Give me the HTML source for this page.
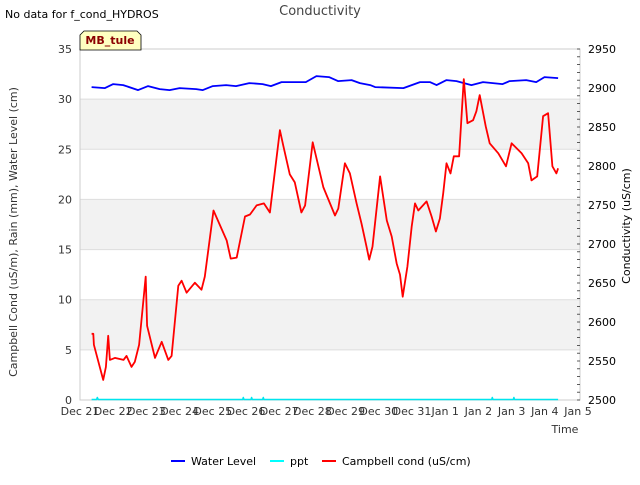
<!DOCTYPE html>
<html><head><meta charset="utf-8"><style>
body{margin:0;background:#fff;font-family:"Liberation Sans","DejaVu Sans",sans-serif}
svg text{font-family:"DejaVu Sans","Liberation Sans",sans-serif}
</style></head><body>
<svg id="chart" width="640" height="480" viewBox="0 0 640 480">
<text x="5" y="18" font-size="11" fill="#000">No data for f_cond_HYDROS</text>
<text x="320" y="15" font-size="13" text-anchor="middle" fill="#444">Conductivity</text>
<g id="bands"></g>
<g id="grid"></g>
<rect x="80" y="49" width="500" height="351" fill="none" stroke="#ccc"/>
<g id="axes"></g>
<g id="series"></g>
<g>
<path d="M84,31 L137,31 L141,35 L141,50 L80,50 L80,35 Z" fill="#ffffc0" stroke="#000" stroke-width="0.8"/>
<text x="110" y="44" font-size="11" font-weight="bold" text-anchor="middle" fill="#8b0000">MB_tule</text>
</g>
<text transform="translate(17,232) rotate(-90)" font-size="11" text-anchor="middle" fill="#333">Campbell Cond (uS/m), Rain (mm), Water Level (cm)</text>
<text transform="translate(630,226) rotate(-90)" font-size="11" text-anchor="middle" fill="#000">Conductivity (uS/cm)</text>
<text x="565" y="433" font-size="11" text-anchor="middle" fill="#333">Time</text>
<g>
<g><line x1="171" y1="461" x2="185" y2="461" stroke="#00f" stroke-width="2"/><text x="191" y="465" font-size="11">Water Level</text></g>
<g><line x1="270" y1="461" x2="284" y2="461" stroke="#0ff" stroke-width="2"/><text x="290" y="465" font-size="11">ppt</text></g>
<g><line x1="322" y1="461" x2="336" y2="461" stroke="#f00" stroke-width="2"/><text x="342" y="465" font-size="11">Campbell cond (uS/cm)</text></g>
</g>
</svg>
<script>
const xTickLabels=["Dec 21","Dec 22","Dec 23","Dec 24","Dec 25","Dec 26","Dec 27","Dec 28","Dec 29","Dec 30","Dec 31","Jan 1","Jan 2","Jan 3","Jan 4","Jan 5"];
const leftTicks=[0,5,10,15,20,25,30,35];
const rightTicks=[2500,2550,2600,2650,2700,2750,2800,2850,2900,2950];
const condDays=[0.35,0.40,0.42,0.70,0.78,0.85,0.90,1.05,1.31,1.40,1.55,1.65,1.78,1.98,2.02,2.26,2.46,2.66,2.76,2.96,3.06,3.21,3.46,3.66,3.76,4.02,4.42,4.54,4.72,4.97,5.12,5.32,5.54,5.72,6.02,6.12,6.32,6.47,6.67,6.78,7.01,7.33,7.68,7.78,7.98,8.13,8.33,8.48,8.63,8.71,8.81,9.04,9.24,9.39,9.54,9.64,9.72,9.86,9.99,10.09,10.19,10.44,10.59,10.72,10.84,10.94,11.04,11.16,11.26,11.42,11.56,11.67,11.84,11.94,12.04,12.22,12.34,12.6,12.83,13.0,13.15,13.3,13.5,13.6,13.77,13.95,14.1,14.23,14.35,14.4];
const condValues=[6.6,6.6,5.5,2.0,3.3,6.4,4.0,4.2,4.0,4.4,3.3,3.8,5.5,12.3,7.4,4.2,5.8,4.0,4.4,11.4,11.9,10.7,11.7,11.0,12.3,18.9,15.9,14.1,14.2,18.3,18.5,19.4,19.6,18.7,26.9,25.4,22.5,21.7,18.7,19.4,25.7,21.2,18.4,19.1,23.6,22.6,19.6,17.6,15.3,14.0,15.3,22.3,17.9,16.3,13.6,12.5,10.3,13.3,17.3,19.6,18.9,19.8,18.3,16.8,18.1,20.6,23.6,22.6,24.3,24.3,32.0,27.6,27.9,28.8,30.4,27.3,25.6,24.6,23.3,25.6,25.1,24.6,23.6,21.9,22.3,28.3,28.6,23.3,22.6,23.1];
const levelDays=[0.35,0.75,1.0,1.3,1.75,2.05,2.4,2.7,3.0,3.5,3.7,4.0,4.4,4.7,5.1,5.5,5.75,6.07,6.8,7.12,7.5,7.77,8.18,8.43,8.74,8.89,9.74,10.24,10.54,10.74,11.04,11.34,11.79,12.14,12.73,12.94,13.44,13.74,13.99,14.4];
const levelValues=[31.2,31.1,31.5,31.4,30.9,31.3,31.0,30.9,31.1,31.0,30.9,31.3,31.4,31.3,31.6,31.5,31.3,31.7,31.7,32.3,32.2,31.8,31.9,31.6,31.4,31.2,31.1,31.7,31.7,31.4,31.9,31.8,31.4,31.7,31.5,31.8,31.9,31.7,32.2,32.1];
const pptDays=[0.35,0.5,0.52,0.55,4.9,4.92,4.94,5.15,5.17,5.19,5.5,5.52,5.54,12.4,12.42,12.44,13.05,13.07,13.09,14.4];
const pptValues=[0.05,0.05,0.25,0.05,0.05,0.25,0.05,0.05,0.25,0.05,0.05,0.25,0.05,0.05,0.25,0.05,0.05,0.25,0.05,0.05];

const NS="http://www.w3.org/2000/svg";
const X0=80,X1=580,Y0=400,Y1=49;
const xs=d=>X0+d*(498/15);
const yl=v=>Y0-(v/35)*(Y0-Y1);
const yr=v=>Y0-((v-2500)/450)*(Y0-Y1);
function mk(tag,attrs,parent){const e=document.createElementNS(NS,tag);for(const k in attrs)e.setAttribute(k,attrs[k]);parent.appendChild(e);return e;}
const bands=document.getElementById('bands'),grid=document.getElementById('grid'),axes=document.getElementById('axes'),series=document.getElementById('series');
[[25,30],[15,20],[5,10]].forEach(b=>{
 const r=mk('rect',{x:X0,y:yl(b[1]),width:X1-X0,height:yl(b[0])-yl(b[1]),fill:'#f2f2f2'},bands);
 
 
});
leftTicks.forEach(v=>{
 const l=mk('line',{x1:X0,x2:X1,y1:yl(v),y2:yl(v),stroke:'#ddd'},grid);
 
 
 const t=mk('text',{x:72,y:yl(v)+4,'font-size':11,'text-anchor':'end',fill:'#333'},axes);
 t.textContent=v;
 
 
});
rightTicks.forEach(v=>{
 const t=mk('text',{x:588,y:yr(v)+4,'font-size':11,fill:'#000'},axes);
 t.textContent=v;
 
 
});
for(let v=2500;v<=2950;v+=10){
 const m=mk('line',{x1:X1-3,x2:X1,y1:yr(v),y2:yr(v),stroke:'#333','stroke-width':0.8},axes);
 
 
}
xTickLabels.forEach((s,i)=>{
 const t=mk('text',{x:xs(i),y:415,'font-size':11,'text-anchor':'middle',fill:'#333'},axes);
 t.textContent=s;
 
 
});
function line(ds,vs,color,w,name){
 const p=mk('polyline',{points:ds.map((d,i)=>xs(d).toFixed(1)+','+yl(vs[i]).toFixed(1)).join(' '),fill:'none',stroke:color,'stroke-width':w,'stroke-linejoin':'round'},series);
 
 
}
line(pptDays,pptValues,'#00e5ee',1.5,'ppt-line');
line(levelDays,levelValues,'#0000ff',1.8,'water-level-line');
line(condDays,condValues,'#ff0000',1.8,'campbell-cond-line');
</script>
</body></html>
